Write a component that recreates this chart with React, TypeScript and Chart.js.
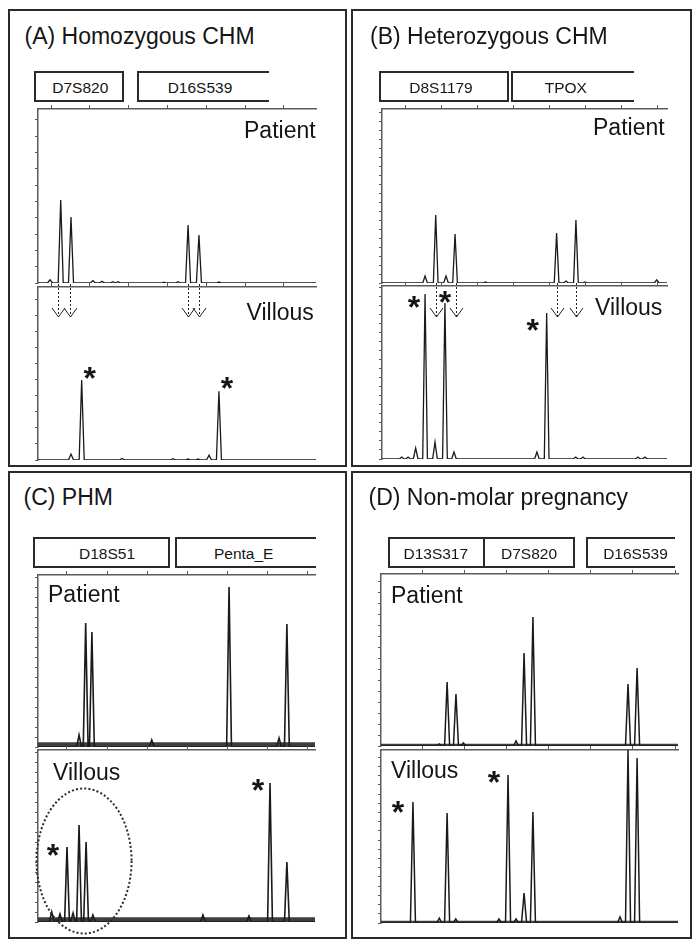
import React, { useEffect, useRef } from "react";
import { Chart, registerables } from "chart.js";

Chart.register(...registerables);

const FONT = "'Liberation Sans', Arial, Helvetica, sans-serif";
const LABEL_PATIENT = "Patient";
const LABEL_VILLOUS = "Villous";
const STAR = "*";

// ================= DATA =================
// (A) Homozygous CHM
const A_TITLE = "(A) Homozygous CHM";
const A_LOCI = ["D7S820", "D16S539"];
const A_X_MIN = 93.3;
const A_X_MAX = 236.5;
const A_X_STEP = 20;
const A_PAT_SIZES = [99.5, 105.0, 110.3, 121.6, 126.3, 131.9, 134.5, 158.2, 165.4, 170.6, 176.2, 186.5];
const A_PAT_HEIGHTS = [20, 509, 405, 15, 10, 8, 8, 5, 8, 356, 294, 6];
const A_PAT_Y_MAX = 1067;
const A_VIL_SIZES = [110.3, 115.8, 136.6, 162.8, 170.6, 175.7, 181.4, 186.5];
const A_VIL_HEIGHTS = [37, 499, 10, 8, 6, 6, 30, 430];
const A_VIL_Y_MAX = 1081;
const A_Y_STEP = 100;
const A_ARROWS = [103.6, 109.6, 170.4, 176.2];
const A_STARRED = [1, 7];
const A_PAT_NOISE = 0;
const A_VIL_NOISE = 0;

// (B) Heterozygous CHM
const B_TITLE = "(B) Heterozygous CHM";
const B_LOCI = ["D8S1179", "TPOX"];
const B_X_MIN = 87.27;
const B_X_MAX = 245.0;
const B_X_STEP = 20;
const B_PAT_SIZES = [111.1, 117.0, 122.7, 127.7, 144.6, 183.9, 189.1, 194.6, 199.6, 239.3];
const B_PAT_HEIGHTS = [39, 378, 39, 272, 6, 278, 11, 350, 6, 17];
const B_PAT_Y_MAX = 967;
const B_VIL_SIZES = [98.2, 101.7, 105.9, 111.1, 116.6, 122.1, 127.1, 173.0, 178.4, 194.5, 198.5, 228.9, 232.8];
const B_VIL_HEIGHTS = [11, 11, 61, 917, 94, 867, 39, 39, 811, 11, 11, 11, 11];
const B_VIL_Y_MAX = 961;
const B_Y_STEP = 50;
const B_ARROWS = [117.2, 128.2, 184.1, 194.8];
const B_STARRED = [3, 5, 8];
const B_PAT_NOISE = 0;
const B_VIL_NOISE = 0;

// (C) PHM
const C_TITLE = "(C) PHM";
const C_LOCI = ["D18S51", "Penta_E"];
const C_X_MIN = 85.56;
const C_X_MAX = 223.5;
const C_X_STEP = 20;
const C_PAT_SIZES = [106.0, 109.3, 112.4, 142.2, 180.7, 205.6, 209.5];
const C_PAT_HEIGHTS = [60, 620, 575, 35, 800, 45, 615];
const C_PAT_Y_MAX = 860;
const C_VIL_SIZES = [92.4, 96.5, 100.0, 103.0, 106.0, 109.5, 112.9, 167.7, 190.6, 201.1, 209.5];
const C_VIL_HEIGHTS = [50, 40, 375, 45, 485, 400, 35, 35, 30, 695, 300];
const C_VIL_Y_MAX = 860;
const C_Y_STEP = 50;
const C_ARROWS: number[] = [];
const C_STARRED = [2, 9];
const C_PAT_NOISE = 24;
const C_VIL_NOISE = 24;

// (D) Non-molar pregnancy
const D_TITLE = "(D) Non-molar pregnancy";
const D_LOCI = ["D13S317", "D7S820", "D16S539"];
const D_X_MIN = 80.55;
const D_X_MAX = 221.4;
const D_X_STEP = 20;
const D_PAT_SIZES = [108.2, 111.9, 116.1, 119.6, 144.6, 148.4, 152.6, 197.7, 202.0];
const D_PAT_HEIGHTS = [9, 291, 236, 14, 23, 423, 586, 282, 355];
const D_PAT_Y_MAX = 782;
const D_VIL_SIZES = [95.7, 108.2, 111.9, 116.0, 136.5, 140.8, 144.6, 148.4, 152.6, 193.9, 197.7, 202.0];
const D_VIL_HEIGHTS = [658, 27, 598, 22, 22, 804, 22, 163, 603, 33, 940, 897];
const D_VIL_Y_MAX = 940;
const D_Y_STEP = 50;
const D_ARROWS: number[] = [];
const D_STARRED = [0, 5];
const D_PAT_NOISE = 10;
const D_VIL_NOISE = 12;

// ================= LAYOUT / STYLE =================
type Box = { l: number; r: number; t: number; b: number; open: boolean; cx: number; base: number };
type Plot = { left: number; top: number; right: number; bottom: number };
type Rect = { left: number; top: number; width: number; height: number };

type PanelCfg = {
  id: string;
  rect: Rect;
  title: string;
  titlePos: [number, number];
  loci: string[];
  boxes: Box[];
  patLabel: [number, number];
  vilLabel: [number, number];
  patPlot: Plot;
  vilPlot: Plot;
  xMin: number;
  xMax: number;
  xStep: number;
  yStep: number;
  patSizes: number[];
  patHeights: number[];
  patYMax: number;
  vilSizes: number[];
  vilHeights: number[];
  vilYMax: number;
  patNoise: number;
  vilNoise: number;
  halfWidth: number;
  lineWidth: number;
  arrows: number[];
  arrowTip: number;
  starred: number[];
  starOffsets: [number, number][];
  ellipse: null | { cx: number; cy: number; rx: number; ry: number };
};

const PANELS: PanelCfg[] = [
  {
    id: "A",
    rect: { left: 8, top: 9, width: 339, height: 458 },
    title: A_TITLE,
    titlePos: [24.5, 44],
    loci: A_LOCI,
    boxes: [
      { l: 35, r: 123, t: 72, b: 101, open: false, cx: 80.3, base: 92.7 },
      { l: 138, r: 268, t: 72, b: 101, open: true, cx: 200, base: 92.7 },
    ],
    patLabel: [244, 138.3],
    vilLabel: [246.5, 320],
    patPlot: { left: 38, top: 109, right: 316, bottom: 283 },
    vilPlot: { left: 38, top: 287, right: 316, bottom: 460 },
    xMin: A_X_MIN, xMax: A_X_MAX, xStep: A_X_STEP, yStep: A_Y_STEP,
    patSizes: A_PAT_SIZES, patHeights: A_PAT_HEIGHTS, patYMax: A_PAT_Y_MAX,
    vilSizes: A_VIL_SIZES, vilHeights: A_VIL_HEIGHTS, vilYMax: A_VIL_Y_MAX,
    patNoise: A_PAT_NOISE, vilNoise: A_VIL_NOISE,
    halfWidth: 1.3, lineWidth: 1.3,
    arrows: A_ARROWS, arrowTip: 30,
    starred: A_STARRED, starOffsets: [[8, -10], [8, -11]],
    ellipse: null,
  },
  {
    id: "B",
    rect: { left: 351, top: 9, width: 341, height: 458 },
    title: B_TITLE,
    titlePos: [370, 44],
    loci: B_LOCI,
    boxes: [
      { l: 380, r: 508, t: 72, b: 101, open: false, cx: 441, base: 92.7 },
      { l: 512, r: 633, t: 72, b: 101, open: true, cx: 565.8, base: 92.7 },
    ],
    patLabel: [593, 135],
    vilLabel: [595, 315],
    patPlot: { left: 382, top: 109, right: 667, bottom: 283 },
    vilPlot: { left: 382, top: 286, right: 667, bottom: 459 },
    xMin: B_X_MIN, xMax: B_X_MAX, xStep: B_X_STEP, yStep: B_Y_STEP,
    patSizes: B_PAT_SIZES, patHeights: B_PAT_HEIGHTS, patYMax: B_PAT_Y_MAX,
    vilSizes: B_VIL_SIZES, vilHeights: B_VIL_HEIGHTS, vilYMax: B_VIL_Y_MAX,
    patNoise: B_PAT_NOISE, vilNoise: B_VIL_NOISE,
    halfWidth: 1.3, lineWidth: 1.3,
    arrows: B_ARROWS, arrowTip: 31,
    starred: B_STARRED, starOffsets: [[-11, 6], [0, -8], [-14, 10]],
    ellipse: null,
  },
  {
    id: "C",
    rect: { left: 8, top: 471, width: 339, height: 468 },
    title: C_TITLE,
    titlePos: [23.5, 505.5],
    loci: C_LOCI,
    boxes: [
      { l: 34, r: 169, t: 538, b: 567, open: false, cx: 107, base: 559.3 },
      { l: 176, r: 315, t: 538, b: 567, open: true, cx: 243.7, base: 559.3 },
    ],
    patLabel: [48, 602.3],
    vilLabel: [53, 780],
    patPlot: { left: 38, top: 575, right: 315, bottom: 747 },
    vilPlot: { left: 38, top: 750, right: 315, bottom: 922 },
    xMin: C_X_MIN, xMax: C_X_MAX, xStep: C_X_STEP, yStep: C_Y_STEP,
    patSizes: C_PAT_SIZES, patHeights: C_PAT_HEIGHTS, patYMax: C_PAT_Y_MAX,
    vilSizes: C_VIL_SIZES, vilHeights: C_VIL_HEIGHTS, vilYMax: C_VIL_Y_MAX,
    patNoise: C_PAT_NOISE, vilNoise: C_VIL_NOISE,
    halfWidth: 1.2, lineWidth: 1.6,
    arrows: C_ARROWS, arrowTip: 30,
    starred: C_STARRED, starOffsets: [[-14, 1], [-12, 0]],
    ellipse: { cx: 108.5, cy: 305, rx: 47.5, ry: 72.5 },
  },
  {
    id: "D",
    rect: { left: 351, top: 471, width: 341, height: 468 },
    title: D_TITLE,
    titlePos: [368.5, 505],
    loci: D_LOCI,
    boxes: [
      { l: 389, r: 484, t: 538, b: 567, open: false, cx: 435.8, base: 559.3 },
      { l: 484, r: 574, t: 538, b: 567, open: false, cx: 529, base: 559.3 },
      { l: 587, r: 674, t: 538, b: 567, open: true, cx: 635.5, base: 559.3 },
    ],
    patLabel: [391, 603.3],
    vilLabel: [391, 778.3],
    patPlot: { left: 381, top: 574, right: 678, bottom: 746 },
    vilPlot: { left: 381, top: 750, right: 678, bottom: 923 },
    xMin: D_X_MIN, xMax: D_X_MAX, xStep: D_X_STEP, yStep: D_Y_STEP,
    patSizes: D_PAT_SIZES, patHeights: D_PAT_HEIGHTS, patYMax: D_PAT_Y_MAX,
    vilSizes: D_VIL_SIZES, vilHeights: D_VIL_HEIGHTS, vilYMax: D_VIL_Y_MAX,
    patNoise: D_PAT_NOISE, vilNoise: D_VIL_NOISE,
    halfWidth: 1.2, lineWidth: 1.5,
    arrows: D_ARROWS, arrowTip: 30,
    starred: D_STARRED, starOffsets: [[-15, 3], [-14, 0]],
    ellipse: null,
  },
];

const AXIS_COLOR = "#5a5a5a";
const TRACE_COLOR = "#1a1a1a";
const INK = "#151515";

// Build a trace table (baseline + peak apexes) from the peak arrays
function buildTrace(sizes: number[], heights: number[], hw: number, xMin: number, xMax: number) {
  const pts: { x: number; y: number }[] = [{ x: xMin, y: 0 }];
  sizes.forEach((s, i) => {
    pts.push({ x: s - hw, y: 0 }, { x: s, y: heights[i] }, { x: s + hw, y: 0 });
  });
  pts.push({ x: xMax, y: 0 });
  pts.sort((a, b) => a.x - b.x);
  return pts;
}

type TraceProps = {
  rect: Rect;
  plot: Plot;
  xMin: number;
  xMax: number;
  xStep: number;
  yMax: number;
  yStep: number;
  sizes: number[];
  heights: number[];
  noise: number;
  halfWidth: number;
  lineWidth: number;
  decorate?: (chart: any) => void;
};

function TraceChart(props: TraceProps) {
  const ref = useRef<HTMLCanvasElement>(null);
  useEffect(() => {
    const p = props;
    const datasets: any[] = [
      {
        data: buildTrace(p.sizes, p.heights, p.halfWidth, p.xMin, p.xMax),
        borderColor: TRACE_COLOR,
        borderWidth: p.lineWidth,
        pointRadius: 0,
        tension: 0,
        fill: false,
        order: 0,
      },
    ];
    if (p.noise > 0) {
      datasets.push({
        data: [
          { x: p.xMin, y: p.noise },
          { x: p.xMax, y: p.noise },
        ],
        borderWidth: 0,
        borderColor: "rgba(0,0,0,0)",
        backgroundColor: "#3e3e3e",
        fill: "origin",
        pointRadius: 0,
        order: 1,
      });
    }
    const grid = {
      drawOnChartArea: false,
      drawTicks: true,
      tickLength: 3,
      color: AXIS_COLOR,
      lineWidth: 1,
    };
    const border = { display: true, color: AXIS_COLOR, width: 1.5 };
    const chart = new Chart(ref.current as HTMLCanvasElement, {
      type: "line",
      data: { datasets },
      options: {
        responsive: false,
        animation: false,
        events: [],
        layout: {
          padding: {
            left: p.plot.left - p.rect.left,
            top: p.plot.top - p.rect.top,
            right: p.rect.left + p.rect.width - p.plot.right,
            bottom: p.rect.top + p.rect.height - p.plot.bottom,
          },
        },
        plugins: {
          legend: { display: false },
          tooltip: { enabled: false },
          title: { display: false },
        },
        scales: {
          x: {
            type: "linear",
            position: "top",
            min: p.xMin,
            max: p.xMax,
            ticks: { display: false, stepSize: p.xStep, includeBounds: false },
            grid: { ...grid, tickLength: 4 },
            border,
            afterFit: (s: any) => {
              s.height = 0;
            },
          },
          y: {
            type: "linear",
            position: "left",
            min: 0,
            max: p.yMax,
            ticks: { display: false, stepSize: p.yStep, includeBounds: false },
            grid,
            border,
            afterFit: (s: any) => {
              s.width = 0;
            },
          },
        },
      } as any,
      plugins: p.decorate
        ? [
            {
              id: "decor",
              afterDatasetsDraw: (c: any) => p.decorate!(c),
            },
          ]
        : [],
    });
    return () => chart.destroy();
  }, []);
  return (
    <canvas
      ref={ref}
      width={props.rect.width}
      height={props.rect.height}
      style={{
        position: "absolute",
        left: props.rect.left,
        top: props.rect.top,
        width: props.rect.width,
        height: props.rect.height,
      }}
    />
  );
}

function makeDecor(cfg: PanelCfg) {
  return (chart: any) => {
    const ctx: CanvasRenderingContext2D = chart.ctx;
    const xs = chart.scales.x;
    const ys = chart.scales.y;
    const top = chart.chartArea.top;
    ctx.save();
    ctx.strokeStyle = "#222";
    ctx.lineWidth = 1;
    cfg.arrows.forEach((v) => {
      const x = Math.round(xs.getPixelForValue(v)) + 0.5;
      const tip = top + cfg.arrowTip;
      ctx.setLineDash([2, 2]);
      ctx.beginPath();
      ctx.moveTo(x, top - 3);
      ctx.lineTo(x, tip);
      ctx.stroke();
      ctx.setLineDash([]);
      ctx.beginPath();
      ctx.moveTo(x - 6.5, tip - 9);
      ctx.lineTo(x, tip);
      ctx.lineTo(x + 6.5, tip - 9);
      ctx.stroke();
    });
    ctx.fillStyle = INK;
    ctx.font = `bold 32px ${FONT}`;
    ctx.textAlign = "center";
    ctx.textBaseline = "alphabetic";
    cfg.starred.forEach((idx, k) => {
      const [dx, dy] = cfg.starOffsets[k];
      const px = xs.getPixelForValue(cfg.vilSizes[idx]) + dx;
      const py = ys.getPixelForValue(cfg.vilHeights[idx]) + dy;
      ctx.fillText(STAR, px, py + 0.575 * 32);
    });
    if (cfg.ellipse) {
      const e = cfg.ellipse;
      ctx.strokeStyle = "#2a2a2a";
      ctx.lineWidth = 2;
      ctx.setLineDash([2, 2.2]);
      ctx.beginPath();
      ctx.ellipse(xs.getPixelForValue(e.cx), ys.getPixelForValue(e.cy), e.rx, e.ry, 0, 0, Math.PI * 2);
      ctx.stroke();
      ctx.setLineDash([]);
    }
    ctx.restore();
  };
}

function Text(props: { x: number; base: number; size: number; text: string; center?: boolean }) {
  const top = props.base - 0.8465 * props.size;
  return (
    <div
      style={{
        position: "absolute",
        left: props.x,
        top,
        fontFamily: FONT,
        fontSize: props.size,
        lineHeight: `${props.size}px`,
        whiteSpace: "nowrap",
        color: INK,
        transform: props.center ? "translateX(-50%)" : undefined,
      }}
    >
      {props.text}
    </div>
  );
}

function Panel({ cfg }: { cfg: PanelCfg }) {
  const r = cfg.rect;
  return (
    <>
      <div
        style={{
          position: "absolute",
          left: r.left,
          top: r.top,
          width: r.width,
          height: r.height,
          border: "2px solid #2a2a2a",
          boxSizing: "border-box",
        }}
      />
      <Text x={cfg.titlePos[0]} base={cfg.titlePos[1]} size={23} text={cfg.title} />
      {cfg.boxes.map((b, i) => (
        <React.Fragment key={i}>
          <div
            style={{
              position: "absolute",
              left: b.l - 1,
              top: b.t - 1,
              width: b.r - b.l + 2,
              height: b.b - b.t + 2,
              borderTop: "2px solid #2a2a2a",
              borderBottom: "2px solid #2a2a2a",
              borderLeft: "2px solid #2a2a2a",
              borderRight: b.open ? "none" : "2px solid #2a2a2a",
              boxSizing: "border-box",
            }}
          />
          <Text x={b.cx} base={b.base} size={15.5} text={cfg.loci[i]} center />
        </React.Fragment>
      ))}
      <TraceChart
        rect={r}
        plot={cfg.patPlot}
        xMin={cfg.xMin}
        xMax={cfg.xMax}
        xStep={cfg.xStep}
        yMax={cfg.patYMax}
        yStep={cfg.yStep}
        sizes={cfg.patSizes}
        heights={cfg.patHeights}
        noise={cfg.patNoise}
        halfWidth={cfg.halfWidth}
        lineWidth={cfg.lineWidth}
      />
      <TraceChart
        rect={r}
        plot={cfg.vilPlot}
        xMin={cfg.xMin}
        xMax={cfg.xMax}
        xStep={cfg.xStep}
        yMax={cfg.vilYMax}
        yStep={cfg.yStep}
        sizes={cfg.vilSizes}
        heights={cfg.vilHeights}
        noise={cfg.vilNoise}
        halfWidth={cfg.halfWidth}
        lineWidth={cfg.lineWidth}
        decorate={makeDecor(cfg)}
      />
      <Text x={cfg.patLabel[0]} base={cfg.patLabel[1]} size={23} text={LABEL_PATIENT} />
      <Text x={cfg.vilLabel[0]} base={cfg.vilLabel[1]} size={23} text={LABEL_VILLOUS} />
    </>
  );
}

export default function App() {
  return (
    <div
      style={{
        position: "absolute",
        left: 0,
        top: 0,
        width: 700,
        height: 950,
        background: "#ffffff",
        overflow: "hidden",
      }}
    >
      {PANELS.map((p) => (
        <Panel key={p.id} cfg={p} />
      ))}
    </div>
  );
}
